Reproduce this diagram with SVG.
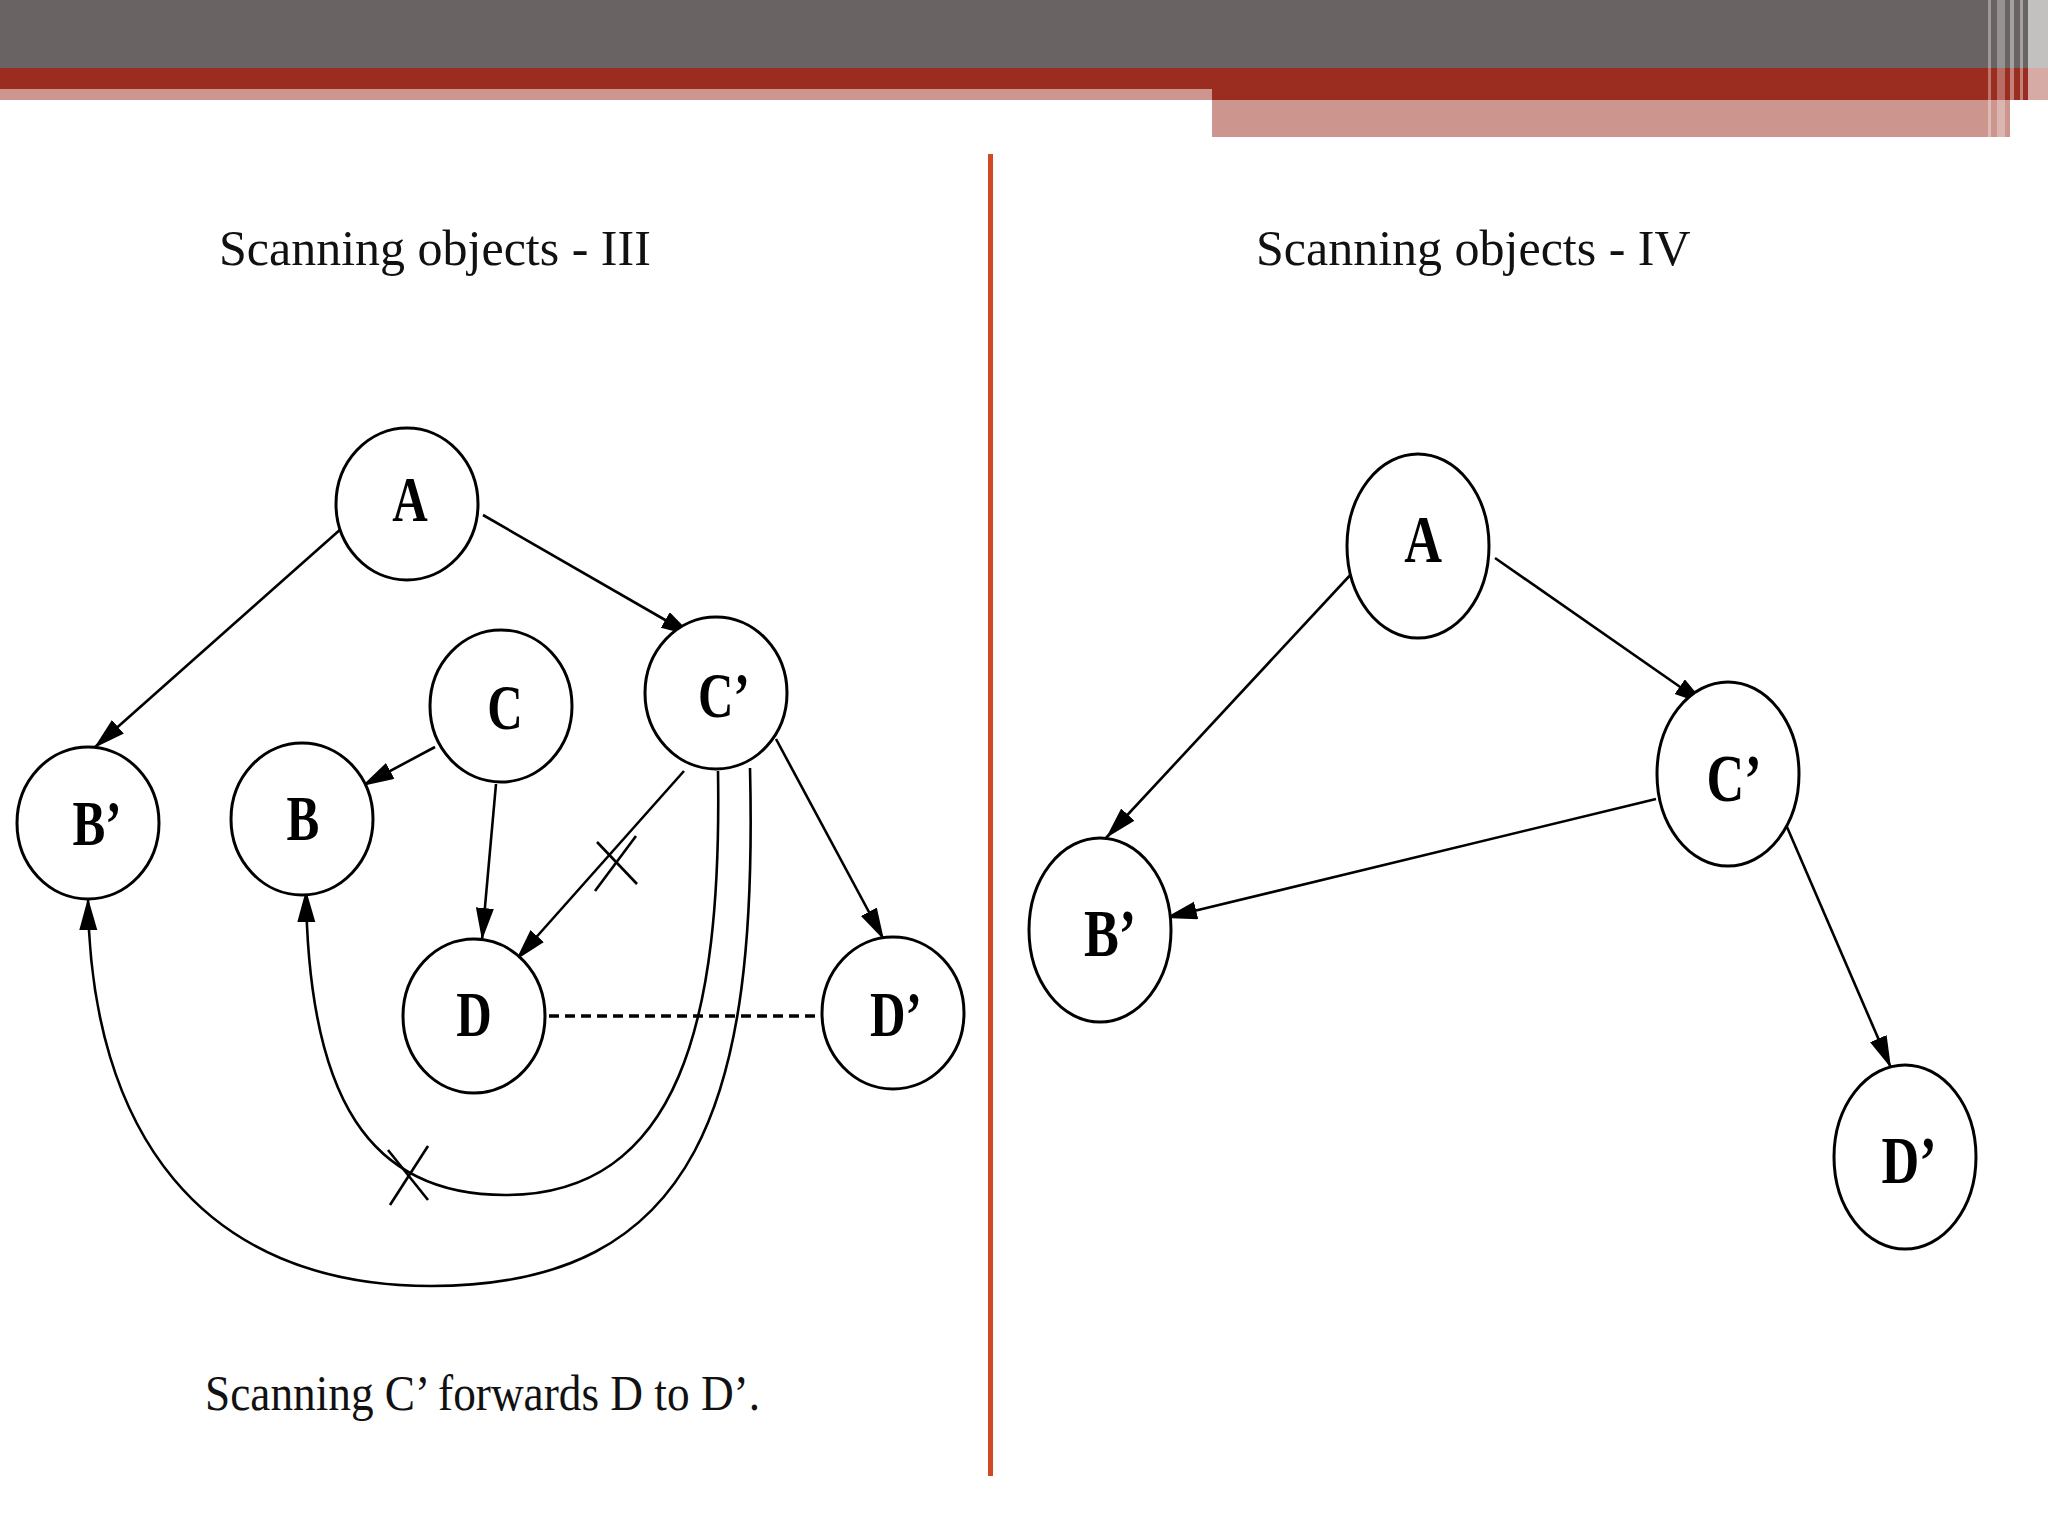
<svg xmlns="http://www.w3.org/2000/svg" width="2048" height="1536" viewBox="0 0 2048 1536">
<defs>
<style>
.node{fill:#fff;stroke:#000;stroke-width:3}
.lbl{font-family:"Liberation Serif","Times New Roman",serif;font-weight:bold;font-size:63px;fill:#000;text-anchor:middle}
.lblr{font-family:"Liberation Serif","Times New Roman",serif;font-weight:bold;font-size:67px;fill:#000;text-anchor:middle}
.edge{fill:none;stroke:#000;stroke-width:2.6}
.title{font-family:"Liberation Serif","Times New Roman",serif;font-size:50px;fill:#111}
</style>
<marker id="arr" markerUnits="userSpaceOnUse" markerWidth="34" markerHeight="20" refX="32" refY="9" orient="auto">
<path d="M0,0 L32,9 L0,18 Z" fill="#000"/>
</marker>
</defs>
<rect width="2048" height="1536" fill="#fff"/>
<g id="header">
<rect x="0" y="0" width="2048" height="68" fill="#696363"/>
<rect x="0" y="68" width="2048" height="32" fill="#9b2d20"/>
<rect x="0" y="89" width="1212" height="11" fill="#cc958e"/>
<rect x="1212" y="100" width="798" height="37" fill="#cc958e"/>
<rect x="1988" y="0" width="3" height="137" fill="#fff" opacity="0.35"/>
<rect x="1997" y="0" width="8" height="137" fill="#fff" opacity="0.3"/>
<rect x="2010" y="0" width="4" height="137" fill="#fff" opacity="0.4"/>
<rect x="2020" y="0" width="3" height="137" fill="#fff" opacity="0.4"/>
<rect x="2028" y="0" width="20" height="137" fill="#fff" opacity="0.6"/>
</g>
<rect id="divider" x="988" y="154" width="5" height="1322" fill="#cf4a22"/>
<g id="titles">
<text class="title" x="219" y="265">Scanning objects - III</text>
<text class="title" x="1256" y="265">Scanning objects - IV</text>
<text class="title" x="205" y="1410" textLength="555" lengthAdjust="spacingAndGlyphs">Scanning C’ forwards D to D’.</text>
</g>
<g id="connectors">
<line class="edge" x1="342" y1="528" x2="94" y2="748" marker-end="url(#arr)"/>
<line class="edge" x1="483" y1="515" x2="693" y2="636" marker-end="url(#arr)"/>
<line class="edge" x1="435" y1="747" x2="362" y2="786" marker-end="url(#arr)"/>
<line class="edge" x1="496" y1="784" x2="482" y2="940" marker-end="url(#arr)"/>
<line class="edge" x1="684" y1="771" x2="516" y2="960" marker-end="url(#arr)"/>
<line class="edge" x1="776" y1="739" x2="884" y2="940" marker-end="url(#arr)"/>
<line x1="549" y1="1016" x2="823" y2="1016" stroke="#000" stroke-width="3.5" stroke-dasharray="10 6"/>
<path class="edge" d="M718 771 C722 1020 680 1195 505 1195 C370 1195 308 1100 306 890" marker-end="url(#arr)"/>
<path class="edge" d="M750 768 C758 1100 700 1286 431 1286 C200 1286 90 1130 88 898" marker-end="url(#arr)"/>
<line class="edge" x1="595" y1="891" x2="636" y2="836"/>
<line class="edge" x1="597" y1="842" x2="637" y2="884"/>
<line class="edge" x1="390" y1="1205" x2="428" y2="1146"/>
<line class="edge" x1="388" y1="1150" x2="428" y2="1200"/>
<line class="edge" x1="1354" y1="571" x2="1106" y2="838" marker-end="url(#arr)"/>
<line class="edge" x1="1495" y1="558" x2="1706" y2="705" marker-end="url(#arr)"/>
<line class="edge" x1="1656" y1="799" x2="1165" y2="918" marker-end="url(#arr)"/>
<line class="edge" x1="1787" y1="827" x2="1891" y2="1068" marker-end="url(#arr)"/>
</g>
<g id="L-A"><ellipse class="node" cx="407" cy="504" rx="71" ry="76"/><text class="lbl" transform="translate(410,521) scale(0.78,1)">A</text></g>
<g id="L-C"><ellipse class="node" cx="501" cy="706" rx="71" ry="76"/><text class="lbl" transform="translate(505,729) scale(0.78,1)">C</text></g>
<g id="L-Cp"><ellipse class="node" cx="716" cy="693" rx="71" ry="76"/><text class="lbl" transform="translate(724,717) scale(0.78,1)">C’</text></g>
<g id="L-Bp"><ellipse class="node" cx="88" cy="823" rx="71" ry="76"/><text class="lbl" transform="translate(97,845) scale(0.78,1)">B’</text></g>
<g id="L-B"><ellipse class="node" cx="302" cy="819" rx="71" ry="76"/><text class="lbl" transform="translate(303,840) scale(0.78,1)">B</text></g>
<g id="L-D"><ellipse class="node" cx="474" cy="1016" rx="71" ry="77"/><text class="lbl" transform="translate(474,1036) scale(0.78,1)">D</text></g>
<g id="L-Dp"><ellipse class="node" cx="893" cy="1013" rx="71" ry="76"/><text class="lbl" transform="translate(896,1036) scale(0.78,1)">D’</text></g>
<g id="R-A"><ellipse class="node" cx="1418" cy="546" rx="71" ry="92"/><text class="lblr" transform="translate(1423,562) scale(0.78,1)">A</text></g>
<g id="R-Cp"><ellipse class="node" cx="1728" cy="774" rx="71" ry="92"/><text class="lblr" transform="translate(1734,801) scale(0.78,1)">C’</text></g>
<g id="R-Bp"><ellipse class="node" cx="1100" cy="930" rx="71" ry="92"/><text class="lblr" transform="translate(1110,956) scale(0.78,1)">B’</text></g>
<g id="R-Dp"><ellipse class="node" cx="1905" cy="1157" rx="71" ry="92"/><text class="lblr" transform="translate(1909,1183) scale(0.78,1)">D’</text></g>
</svg>
